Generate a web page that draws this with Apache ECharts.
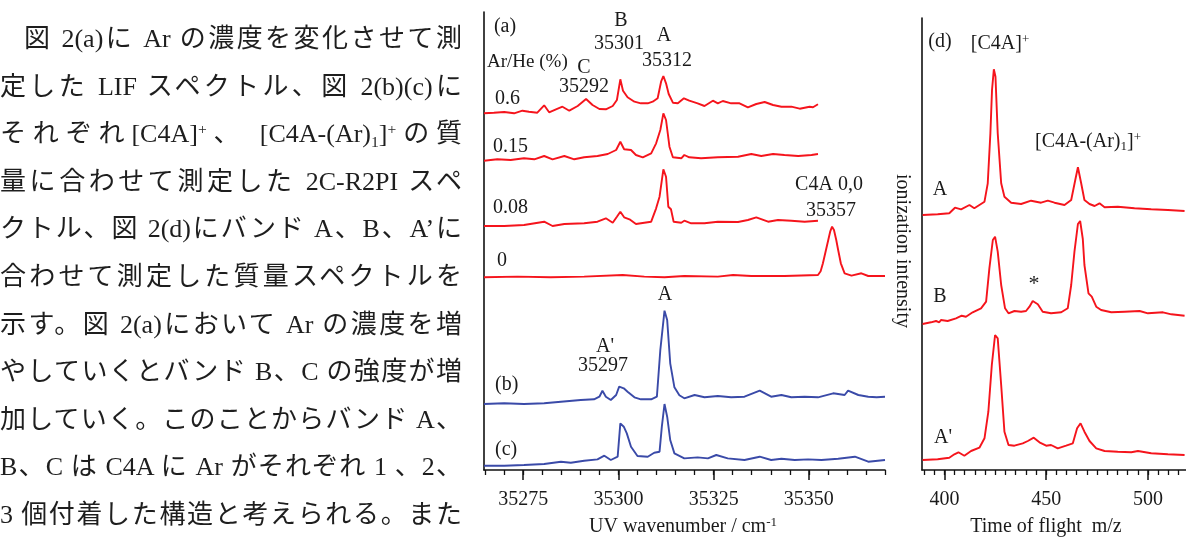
<!DOCTYPE html>
<html><head><meta charset="utf-8">
<script src="https://cdn.jsdelivr.net/npm/echarts@6/dist/echarts.min.js"></script>
<style>
html,body{margin:0;padding:0;background:#fff;}
#chart{position:absolute;left:0;top:0;width:1186px;height:538px;}
#txt{position:absolute;left:0;top:15px;width:462px;font-family:'Liberation Serif','Noto Sans CJK JP',serif;font-size:26px;line-height:47.6px;color:#1e1e1e;z-index:2;}
#txt .l{text-align:justify;text-align-last:justify;white-space:nowrap;height:47.6px;}
#txt .sup{font-size:60%;position:relative;top:-0.55em;line-height:0;}
#txt .sub{font-size:60%;position:relative;top:0.3em;line-height:0;}
</style></head>
<body>
<div id="chart"></div>
<div id="txt">
<div class="l" style="padding-left:24px">図 2(a)に Ar の濃度を変化させて測</div>
<div class="l">定した LIF スペクトル、図 2(b)(c)に</div>
<div class="l">それぞれ[C4A]<span class="sup">+</span>、 [C4A-(Ar)<span class="sub">1</span>]<span class="sup">+</span>の質</div>
<div class="l">量に合わせて測定した 2C-R2PI スペ</div>
<div class="l">クトル、図 2(d)にバンド A、B、A’に</div>
<div class="l">合わせて測定した質量スペクトルを</div>
<div class="l">示す。図 2(a)において Ar の濃度を増</div>
<div class="l">やしていくとバンド B、C の強度が増</div>
<div class="l">加していく。このことからバンド A、</div>
<div class="l">B、C は C4A に Ar がそれぞれ 1 、2、</div>
<div class="l">3 個付着した構造と考えられる。また</div>
</div>
<script>
// ---- Panel (a)-(c): wavenumber / intensity (above each trace's own baseline)
const lif06 = [[35264.7,0.7],[35267.3,1.3],[35270.0,2.0],[35272.6,0.7],[35274.8,3.3],[35276.5,2.3],[35278.7,1.3],[35280.5,8.7],[35281.8,1.7],[35283.6,4.7],[35285.3,7.3],[35287.1,3.3],[35289.3,8.0],[35291.5,15.0],[35293.2,9.0],[35295.0,5.0],[35296.7,4.7],[35298.5,8.0],[35299.6,14.0],[35300.5,34.7],[35301.2,23.3],[35302.4,16.7],[35304.2,12.3],[35305.9,10.7],[35307.7,10.7],[35309.0,12.3],[35310.3,15.7],[35311.2,32.3],[35311.8,38.0],[35312.5,30.7],[35313.2,20.0],[35314.3,11.3],[35315.6,10.7],[35317.2,15.7],[35318.6,13.3],[35320.8,10.7],[35322.6,8.0],[35324.8,13.3],[35326.1,10.7],[35327.4,13.0],[35329.6,10.7],[35331.8,10.7],[35334.0,6.7],[35336.2,10.0],[35338.4,12.0],[35340.6,9.0],[35342.8,7.3],[35345.4,7.3],[35347.6,5.3],[35350.2,7.3],[35351.1,6.7],[35352.4,9.7]];
const lif015 = [[35264.7,0.3],[35268.2,1.7],[35271.7,1.0],[35275.2,2.7],[35277.9,1.7],[35280.5,5.0],[35282.7,1.7],[35285.8,5.0],[35288.4,1.7],[35291.0,3.7],[35294.5,5.0],[35297.2,7.0],[35299.4,11.0],[35300.5,19.3],[35301.5,11.7],[35303.3,11.0],[35304.6,6.0],[35306.4,3.7],[35308.6,7.7],[35309.9,17.7],[35311.0,31.0],[35311.8,47.7],[35312.5,41.0],[35313.4,14.3],[35314.3,3.7],[35316.5,2.7],[35317.3,6.0],[35318.6,3.7],[35321.7,2.7],[35326.1,3.7],[35331.4,4.3],[35334.9,7.0],[35337.5,5.0],[35340.6,7.0],[35343.6,6.0],[35347.2,5.0],[35350.7,6.0],[35352.4,7.0]];
const lif008 = [[35264.7,0],[35270.0,0],[35275.2,1.0],[35280.5,4.3],[35282.7,0],[35285.8,2.0],[35291.0,2.7],[35294.5,4.3],[35296.7,7.7],[35298.5,3.3],[35299.6,9.3],[35300.5,14.3],[35301.5,8.7],[35302.9,6.7],[35304.6,2.0],[35306.8,3.3],[35308.6,4.3],[35309.9,17.7],[35310.8,29.3],[35311.8,56.7],[35312.5,49.3],[35313.1,19.3],[35313.8,16.7],[35314.5,4.3],[35316.5,3.3],[35317.3,5.3],[35319.1,2.7],[35322.6,2.7],[35326.1,4.3],[35331.4,4.0],[35334.0,6.0],[35336.2,8.7],[35339.3,4.3],[35341.9,6.0],[35345.4,5.3],[35348.9,4.3],[35352.4,5.3]];
const lif0 = [[35264.7,0],[35273.5,0.7],[35282.2,0],[35291.0,0.7],[35301.1,2.3],[35306.8,0.7],[35312.1,0],[35317.3,1.3],[35326.1,0.7],[35330.1,2.3],[35334.9,1.3],[35343.6,1.3],[35352.4,2.3],[35353.1,6.0],[35353.7,14.0],[35355.1,37.3],[35355.6,45.6],[35356.1,50.7],[35356.6,47.3],[35357.2,37.3],[35357.7,27.3],[35358.4,14.0],[35359.4,4.0],[35361.2,1.7],[35363.8,4.0],[35365.6,1.3],[35370.0,1.3]];
const r2piB = [[35264.7,0],[35270.0,0.7],[35275.2,0],[35280.5,0.7],[35284.9,2.3],[35290.1,4.0],[35293.6,4.7],[35295.0,7.3],[35295.8,13.3],[35296.7,7.3],[35298.0,4.0],[35299.4,9.0],[35300.2,17.3],[35301.4,15.7],[35302.4,12.3],[35304.2,6.7],[35305.9,4.7],[35308.6,4.7],[35310.1,7.3],[35311.0,54.0],[35312.1,93.3],[35312.8,84.0],[35313.6,40.7],[35314.7,16.7],[35316.0,8.7],[35317.3,5.7],[35320.0,9.0],[35322.6,6.7],[35326.1,8.0],[35329.6,6.7],[35333.1,7.3],[35337.1,13.3],[35340.1,7.3],[35342.8,9.0],[35345.4,6.7],[35348.9,7.3],[35352.4,6.7],[35356.4,10.7],[35359.4,9.0],[35360.3,13.3],[35363.0,9.0],[35365.6,7.3],[35367.8,6.7],[35370.0,7.3]];
const r2piC = [[35264.7,0],[35270.0,0],[35275.2,0.7],[35280.5,1.7],[35284.9,4.0],[35287.5,3.0],[35291.0,5.0],[35294.5,6.3],[35296.3,10.0],[35298.0,5.7],[35299.8,9.0],[35300.5,42.3],[35301.4,39.0],[35302.2,32.3],[35303.3,19.0],[35305.0,9.7],[35307.7,9.0],[35309.4,13.0],[35310.8,14.0],[35311.4,39.0],[35312.1,61.7],[35312.8,49.0],[35313.6,25.7],[35314.7,12.3],[35317.3,7.3],[35320.8,8.3],[35323.5,7.3],[35325.7,10.7],[35328.7,7.3],[35333.1,5.7],[35337.1,9.0],[35340.1,5.7],[35342.8,7.0],[35346.3,5.7],[35349.8,6.3],[35353.3,5.7],[35357.7,7.0],[35362.1,9.0],[35365.6,4.0],[35370.0,5.7]];
// ---- Panel (d): m/z / ionization intensity
const massA = [[389.3,0],[396.7,0.7],[402.4,1.7],[405.2,7.3],[408.2,5.7],[412.3,10],[414.7,6.7],[417.2,10],[419.7,13.3],[421.3,31.7],[422.6,81.7],[423.4,125],[424.3,145.7],[425.1,138.3],[426.2,81.7],[427.9,31.7],[429.5,18.3],[432.8,12.3],[437.7,11],[442.6,14.3],[447.5,12.3],[450.8,14.3],[454.1,12.3],[459,10],[462.3,15],[464.3,35],[465.6,47.7],[467.2,31.7],[468.8,15],[471.3,11],[473.8,9],[476.2,11.7],[478.7,7.7],[485.2,8.3],[493.4,6.7],[501.6,5.7],[509.8,5],[518,4]];
const massB = [[389.3,0],[393.4,1.7],[395.9,3],[397.5,1.7],[398.3,4],[401.6,3],[405.7,5.7],[408.5,8.3],[410.6,7.3],[413.9,11.7],[418,15.7],[420.5,22.3],[422.1,55.7],[423.8,84],[424.9,87.3],[426.2,72.3],[427.9,39],[429.8,15.7],[431.5,10.7],[434.4,13],[437.7,12.3],[440.1,13],[441.8,17.3],[443.4,23],[445.9,19.7],[448.3,12.3],[452.4,10.7],[457.4,11.7],[460.6,15.7],[462.3,39],[463.9,72.3],[465.6,100],[466.7,103],[468,85],[468.8,59],[470.8,30.7],[472.4,27.3],[474.6,17.3],[477,14],[482,11.7],[488.5,12.3],[495.9,13],[500,10.7],[507.4,11.7],[511.5,9.7],[518,8.3]];
const massAp = [[389.3,0],[396.7,0.7],[402.4,2.3],[404.9,5.7],[406.9,7.7],[409.8,4.3],[413.1,9],[417.2,12.3],[419.7,21.7],[421.6,48.3],[423.3,95],[424.9,125],[426.2,121.7],[427.9,75],[429.5,28.3],[431.5,15],[434.4,14.3],[438.5,16.7],[441,19],[443.9,22.3],[446.7,17.7],[450,14.3],[452.4,15],[455.7,11.7],[459.8,14.3],[463.1,16.7],[465.2,31.7],[466.9,36.7],[468.8,28.3],[471.3,19],[474.6,11.7],[478.7,9],[485.2,8.3],[491.8,7.7],[495.1,9],[501.6,6.7],[509.8,5.7],[518,5]];
// ---- tick labels
const ticksA = [35275, 35300, 35325, 35350];
const minorTicksA = [35265,35270,35275,35280,35285,35290,35295,35300,35305,35310,35315,35320,35325,35330,35335,35340,35345,35350,35355,35360,35365,35370];
const ticksD = [400, 450, 500];
const minorTicksD = [390,395,400,405,410,415,420,425,430,435,440,445,450,455,460,465,470,475,480,485,490,495,500,505,510,515];

// vertical stacking offsets (layout, not data)
const offA = {lif06:356, lif015:309, lif008:244, lif0:192.7, r2piB:66, r2piC:4.3};
const offD = {massA:255, massB:146, massAp:10};

const RED = '#f5141c', BLUE = '#3a4aa8', INK = '#1a1a1a';
const FONT = "'Liberation Serif', 'Times New Roman', serif";

function lineSeries(name, arr, off, color, xi, yi) {
  return {
    name, type:'line', xAxisIndex:xi, yAxisIndex:yi, symbol:'none', showSymbol:false,
    silent:true, animation:false, smooth:false,
    lineStyle:{color, width:1.9},
    data: arr.map(p => [p[0], p[1] + off])
  };
}
function mainX(grid, min, max, ticks) {
  return {gridIndex:grid, type:'value', position:'bottom', min, max,
    axisLine:{show:true, onZero:false, lineStyle:{color:'#111', width:1.6}},
    axisTick:{show:true, customValues:ticks, length:10, lineStyle:{color:'#111', width:1.5}},
    axisLabel:{show:true, customValues:ticks, formatter:v=>String(v), margin:20,
      fontSize:20, color:INK, fontFamily:FONT},
    splitLine:{show:false}};
}
function minorX(grid, min, max, ticks) {
  return {gridIndex:grid, type:'value', position:'bottom', min, max,
    axisLine:{show:false, onZero:false},
    axisTick:{show:true, customValues:ticks, length:5, lineStyle:{color:'#111', width:1.3}},
    axisLabel:{show:false}, splitLine:{show:false}};
}
function yAx(grid, max) {
  return {gridIndex:grid, type:'value', min:0, max,
    axisLine:{show:true, onZero:false, lineStyle:{color:'#111', width:1.6}},
    axisTick:{show:false}, axisLabel:{show:false}, splitLine:{show:false}};
}
const rich = {
  sup:{fontSize:13, lineHeight:12, verticalAlign:'top', fontFamily:FONT, fill:INK},
  sub:{fontSize:13, lineHeight:12, verticalAlign:'bottom', fontFamily:FONT, fill:INK}
};
function T(x, y, text, o) {
  o = o || {};
  return {type:'text', x, y, rotation:o.rot || 0, silent:true,
    style:{text, fill:INK, font:(o.size||20)+'px '+FONT,
      textAlign:o.align||'center', textVerticalAlign:'middle', rich, lineHeight:o.lh||22}};
}

const chart = echarts.init(document.getElementById('chart'), null, {renderer:'canvas'});
chart.setOption({
  backgroundColor:'#fff',
  animation:false,
  grid:[
    {left:484, top:12, width:401, height:458},
    {left:922, top:18, width:264, height:452}
  ],
  xAxis:[
    mainX(0, 35264.7, 35370, ticksA), minorX(0, 35264.7, 35370, minorTicksA),
    mainX(1, 389, 518.7, ticksD), minorX(1, 389, 518.7, minorTicksD)
  ],
  yAxis:[yAx(0, 458), yAx(1, 452)],
  series:[
    lineSeries('0.6', lif06, offA.lif06, RED, 0, 0),
    lineSeries('0.15', lif015, offA.lif015, RED, 0, 0),
    lineSeries('0.08', lif008, offA.lif008, RED, 0, 0),
    lineSeries('0', lif0, offA.lif0, RED, 0, 0),
    lineSeries('(b)', r2piB, offA.r2piB, BLUE, 0, 0),
    lineSeries('(c)', r2piC, offA.r2piC, BLUE, 0, 0),
    lineSeries('A', massA, offD.massA, RED, 2, 1),
    lineSeries('B', massB, offD.massB, RED, 2, 1),
    lineSeries("A'", massAp, offD.massAp, RED, 2, 1)
  ],
  graphic:[
    T(505, 27, '(a)'),
    T(621, 21, 'B'),
    T(619, 44, '35301'),
    T(664, 36, 'A'),
    T(667, 61, '35312'),
    T(487, 62, 'Ar/He (%)', {align:'left', size:19}),
    T(584, 68, 'C'),
    T(584, 87, '35292'),
    T(495, 99, '0.6', {align:'left'}),
    T(493, 147, '0.15', {align:'left'}),
    T(493, 208, '0.08', {align:'left'}),
    T(497, 261, '0', {align:'left'}),
    T(829, 185, 'C4A 0,0'),
    T(831, 211, '35357'),
    T(665, 295, 'A'),
    T(605, 347, "A'"),
    T(603, 366, '35297'),
    T(495, 385, '(b)', {align:'left'}),
    T(495, 450, '(c)', {align:'left'}),
    T(683, 527, 'UV wavenumber / cm{sup|-1}'),
    T(940, 42, '(d)'),
    T(1000, 44, '[C4A]{sup|+}'),
    T(1088, 142, '[C4A-(Ar){sub|1}]{sup|+}'),
    T(940, 190, 'A'),
    T(940, 297, 'B'),
    T(1034, 284, '*', {size:22}),
    T(943, 438, "A'"),
    T(902, 251, 'ionization intensity', {rot:-Math.PI/2}),
    T(1046, 527, 'Time of flight  m/z')
  ]
});
</script>
</body></html>
